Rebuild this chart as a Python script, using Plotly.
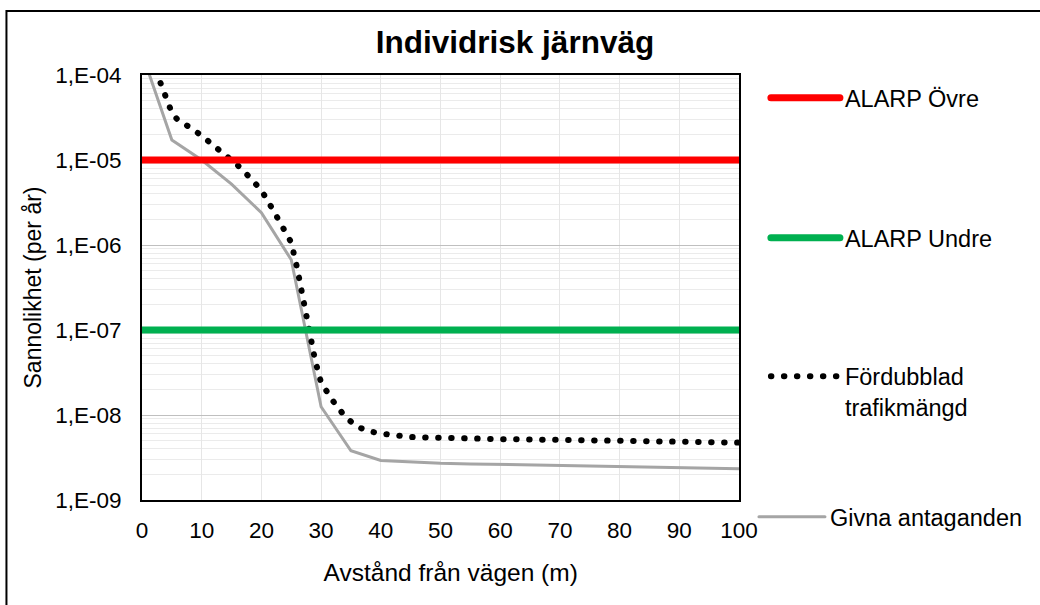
import plotly.graph_objects as go

# ---- data ----
x_given = [0, 5, 10, 15, 20, 25, 30, 35, 40, 45, 50, 55, 60, 65, 70, 75, 80, 85, 90, 95, 100]
y_given = [1.8e-4, 1.72e-5, 1.0e-5, 5.2e-6, 2.4e-6, 6.7e-7, 1.25e-8, 3.8e-9, 2.92e-9, 2.78e-9,
           2.70e-9, 2.66e-9, 2.62e-9, 2.58e-9, 2.55e-9, 2.51e-9, 2.47e-9, 2.42e-9, 2.38e-9,
           2.35e-9, 2.33e-9]

x_double = [0, 2, 3, 4, 5, 6, 7, 8, 10, 12, 14, 16, 18, 20, 22, 23, 24, 25, 26, 27, 28, 29,
            30, 31, 32, 34, 36, 38, 40, 45, 50, 60, 70, 80, 90, 100]
y_double = [3.0e-4, 1.3e-4, 8.0e-5, 5.2e-5, 3.6e-5, 2.95e-5, 2.7e-5, 2.43e-5, 1.93e-5, 1.5e-5,
            1.15e-5, 8.7e-6, 6.3e-6, 4.4e-6, 2.55e-6, 1.9e-6, 1.5e-6, 1.07e-6, 5.3e-7, 2.16e-7,
            9.5e-8, 4.4e-8, 2.4e-8, 1.82e-8, 1.46e-8, 9.6e-9, 7.3e-9, 6.45e-9, 6.05e-9, 5.5e-9,
            5.37e-9, 5.2e-9, 5.1e-9, 4.98e-9, 4.85e-9, 4.73e-9]

alarp_x = [0, 100]
alarp_upper = 1e-5
alarp_lower = 1e-7

y_tickvals = [1e-9, 1e-8, 1e-7, 1e-6, 1e-5, 1e-4]
y_ticktext = ["1,E-09", "1,E-08", "1,E-07", "1,E-06", "1,E-05", "1,E-04"]
x_tickvals = [0, 10, 20, 30, 40, 50, 60, 70, 80, 90, 100]

FONT = "Liberation Sans, Arial, sans-serif"

fig = go.Figure()

fig.add_trace(go.Scatter(x=x_given, y=y_given, mode="lines", name="Givna antaganden",
                         line=dict(color="#A5A5A5", width=3), legend="legend4"))
fig.add_trace(go.Scatter(x=x_double, y=y_double, mode="lines",
                         name="Fördubblad<br>trafikmängd",
                         line=dict(color="#000000", width=6, dash="0.5px,12.5px"),
                         legend="legend3"))
fig.add_trace(go.Scatter(x=alarp_x, y=[alarp_upper] * 2, mode="lines", name="ALARP Övre",
                         line=dict(color="#FF0000", width=7), legend="legend"))
fig.add_trace(go.Scatter(x=alarp_x, y=[alarp_lower] * 2, mode="lines", name="ALARP Undre",
                         line=dict(color="#00B050", width=7), legend="legend2"))

L, R, T, B = 142, 299, 75, 105
PW, PH = 1040 - L - R, 605 - T - B


def px2x(px):
    return (px - L) / PW


def px2y(py):
    return (605 - B - py) / PH


def leg(ypx, valign="middle", xpx=768, iw=69):
    return dict(x=px2x(xpx), y=px2y(ypx), xanchor="left", yanchor="middle",
                bgcolor="rgba(0,0,0,0)", borderwidth=0, itemwidth=iw, valign=valign,
                font=dict(family=FONT, size=23.5, color="#000000"))


fig.update_layout(
    width=1040, height=605,
    margin=dict(l=L, r=R, t=T, b=B),
    paper_bgcolor="white", plot_bgcolor="white",
    font=dict(family=FONT, color="#000000"),
    title=dict(text="Individrisk järnväg", x=515 / 1040, xanchor="center", xref="container",
               y=1 - 42 / 605, yanchor="middle", yref="container",
               font=dict(family=FONT, size=31.5, color="#000000", weight="bold")),
    showlegend=True,
    legend=leg(98),
    legend2=leg(238),
    legend3=leg(392, "top"),
    legend4=leg(517, xpx=756, iw=66),
    xaxis=dict(range=[0, 100], tickvals=x_tickvals, showgrid=True, gridcolor="#E6E6E6",
               gridwidth=1, zeroline=False, showline=True, mirror=True, linecolor="#000000",
               linewidth=2, ticks="", tickfont=dict(family=FONT, size=22.5, color="#000000"),
               ticklabelstandoff=9,
               title=dict(text="&nbsp;&nbsp;&nbsp;Avstånd från vägen (m)", standoff=22,
                          font=dict(family=FONT, size=24.5, color="#000000"))),
    yaxis=dict(type="log", range=[-9, -4], tickvals=y_tickvals, ticktext=y_ticktext,
               showgrid=True, gridcolor="#BFBFBF", gridwidth=1, zeroline=False,
               showline=True, mirror=True, linecolor="#000000", linewidth=2, ticks="",
               tickfont=dict(family=FONT, size=22.5, color="#000000"), ticklabelstandoff=14,
               minor=dict(dtick="D1", showgrid=True, gridcolor="#EBEBEB", gridwidth=1, ticks=""),
               title=dict(text="Sannolikhet (per år)", standoff=7,
                          font=dict(family=FONT, size=23, color="#000000"))),
    shapes=[dict(type="rect", xref="paper", yref="paper",
                 x0=px2x(6), x1=px2x(1050), y0=px2y(615), y1=px2y(11),
                 line=dict(color="#000000", width=2), fillcolor="rgba(0,0,0,0)", layer="above")],
)

post = """
function rc(){
  document.querySelectorAll('path.js-line').forEach(function(p){ p.style.strokeLinecap='round'; });
}
rc(); setTimeout(rc, 50); setTimeout(rc, 300);
"""

fig.write_html("out.html", post_script=post)
